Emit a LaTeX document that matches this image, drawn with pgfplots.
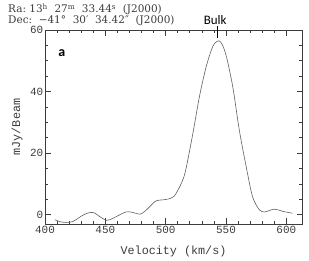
\documentclass[border=0pt]{standalone}
\usepackage{fontspec}
\setmainfont{Liberation Serif}
\newfontfamily\monofont{Liberation Mono}
\newfontfamily\dvserif{DejaVu Serif}
\newfontfamily\carlito{Carlito}
\usepackage{pgfplots}
\pgfplotsset{compat=1.18}
\definecolor{axgray}{RGB}{60,60,60}
\definecolor{curvegray}{RGB}{95,95,95}
\begin{document}
\begin{tikzpicture}
\useasboundingbox (0,0) rectangle (309bp,261bp);
\node[anchor=base west, inner sep=0, font=\dvserif\fontsize{10.5}{11}\selectfont, text=axgray] at (8bp,248bp)
  {Ra:\ 13\textsuperscript{h}\ \ 27\textsuperscript{m}\ \ 33.44\textsuperscript{s}\ \ (J2000)};
\node[anchor=base west, inner sep=0, font=\dvserif\fontsize{10.5}{11}\selectfont, text=axgray] at (8bp,237bp)
  {Dec:\ \ −41°\ \ 30′\ \ 34.42″\ \ (J2000)};
\begin{axis}[
  at={(45bp,37bp)}, anchor=south west,
  scale only axis, width=257bp, height=194bp,
  xmin=400, xmax=613, ymin=-3, ymax=60,
  xtick={400,450,...,600}, ytick={0,20,40,60},
  minor x tick num=4, minor y tick num=3,
  tick pos=both, tick align=inside,
  major tick length=5.5bp, minor tick length=3bp,
  axis line style={axgray, line width=0.7pt},
  every tick/.style={axgray, line width=0.6pt},
  /pgf/number format/assume math mode=true,
  ticklabel style={font=\monofont\fontsize{11}{12}\selectfont, text=axgray},
  yticklabel style={inner sep=1.5pt},
  xticklabel style={inner sep=2pt},
  xlabel={Velocity (km/s)},
  ylabel={mJy/Beam},
  label style={font=\monofont\fontsize{11.8}{13}\selectfont, text=axgray},
  xlabel style={at={(axis description cs:0.5,-0.144)}, anchor=center},
  ylabel style={at={(axis description cs:-0.109,0.5)}, anchor=center},
  clip=false,
]
\addplot[curvegray, line width=0.6pt, smooth, tension=0.5] coordinates {
(408,-1.6) (413,-2.3) (418,-2.5) (423,-2.2) (428,-1) (432,0) (437,0.7) (441,0.6)
(445,-0.5) (451,-1.8) (456,-1.2) (462,0) (467,0.9) (471,0.9) (475,0.5) (479,0.2)
(483,1.2) (487,2.7) (492,4.5) (499,4.9) (504,5.3) (507,6) (511,8.6) (516,13.5)
(522.6,26.5) (528,38.4) (533.6,48.1) (539,54.6) (543,56.4) (546,55.9) (550,51.9)
(555.6,41.6) (561,27.6) (566.7,15.7) (572,5.9) (577.7,1.6) (582,0.9) (586,1.4)
(590,1.8) (594,1.5) (597,1.1) (601,0.8) (605,0.5)
};
\draw[black, line width=0.8pt] (axis cs:543,61.3) -- (axis cs:543,57.4);
\node[anchor=base, inner sep=0pt, font=\carlito\fontsize{13}{14}\selectfont] at ([yshift=6bp]axis cs:541,60) {Bulk};
\node[font=\carlito\bfseries\fontsize{14}{15}\selectfont] at (axis cs:414,52.5) {a};
\end{axis}
\end{tikzpicture}
\end{document}
